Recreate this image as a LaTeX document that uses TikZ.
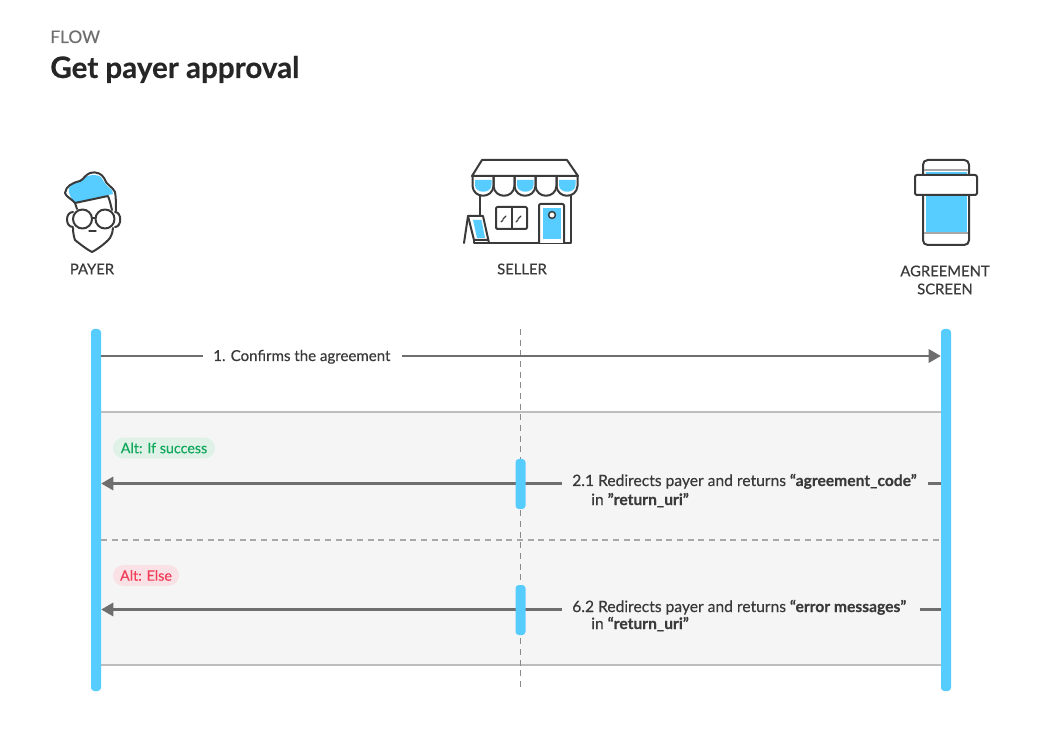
\documentclass[tikz,border=0pt]{standalone}
\usepackage{fontspec}
\setmainfont{Lato}[RawFeature={embolden=0.35}]
\usetikzlibrary{arrows.meta}
\definecolor{sky}{HTML}{56CCFF}
\definecolor{ink}{HTML}{3A3A3A}
\definecolor{panel}{HTML}{F5F5F5}
\definecolor{arrowgray}{HTML}{6E6E6E}
\definecolor{rulegray}{HTML}{BDBDBD}
\definecolor{dashgray}{HTML}{A8A8A8}
\definecolor{okgreen}{HTML}{12A85C}
\definecolor{okpill}{HTML}{E0F2E8}
\definecolor{errred}{HTML}{F03E5A}
\definecolor{errpill}{HTML}{F9E1E5}
\tikzset{
  x=0.75pt,y=-0.75pt,
  lifebar/.style={fill=sky,draw=none,rounded corners=2.5pt,minimum width=7.5pt,inner sep=0pt},
  icon/.style={draw=ink,line width=1.5pt,line join=round,line cap=round},
  actor/.style={text=ink,align=center,font=\fontsize{11.1}{13.5}\selectfont},
  msg/.style={text=ink,font=\fontsize{11.72}{14.3}\selectfont,inner sep=0pt,anchor=base west},
  arrowline/.style={draw=arrowgray,line width=1.7pt},
  tip/.style={-{Triangle[length=9pt,width=10pt]}},
  pill/.style={rounded corners=7.5pt,inner sep=0pt,minimum height=15.4pt,font=\fontsize{10.7}{12}\selectfont},
}
\begin{document}
\begin{tikzpicture}
\useasboundingbox (0,0) rectangle (1040,752);
\fill[white] (0,0) rectangle (1040,752);
% title
\node[anchor=base west,inner sep=0pt,text=arrowgray,font=\fontsize{13}{14}\selectfont] (flow) at (50,43) {FLOW};
\node[anchor=base west,inner sep=0pt,text=black!85,font=\fontsize{22.2}{24}\selectfont\bfseries] (title) at (50,78) {Get payer approval};
% payer icon
\fill[sky] (74,203) .. controls (70,196) and (68,192) .. (69,188) .. controls (72,182) and (80,182) .. (83,179) .. controls (88,174) and (97,174) .. (101,177) .. controls (104,183) and (108,187) .. (112,190) -- (113,194) -- cycle;
\draw[icon] (75,203) .. controls (72,199) and (66,197) .. (65,193) .. controls (66,186) and (72,183) .. (80,181) .. controls (84,179) and (85,175) .. (90,173) .. controls (96,171) and (102,174) .. (104,178) .. controls (106,185) and (113,187) .. (115,192) .. controls (116,197) and (116,205) .. (116,211);
\draw[icon] (77,209) -- (75,203) -- (108,196) .. controls (110,201) and (111,206) .. (112,210);
\draw[icon] (82.5,219) circle (9.5);
\draw[icon] (105,219) circle (9.5);
\draw[icon] (92,218) -- (95.5,218);
\draw[icon] (73,212) .. controls (65,212) and (65,227) .. (73,227);
\draw[icon] (115,212) .. controls (122,212) and (122,227) .. (115,227);
\draw[icon] (73,228) .. controls (73,233) and (74,237) .. (75,240) .. controls (81,245) and (88,250) .. (92,252) .. controls (96,250) and (105,244) .. (110,238) .. controls (112,234) and (113,231) .. (113,228);
\draw[icon,line width=1pt] (89,231) -- (96,231);
\node[actor] (payer) at (92,269) {PAYER};
% seller icon
\foreach \i in {0,2,4}{
  \fill[sky] ({475+\i*21},180) -- ({491.5+\i*21},180) -- ({491.5+\i*21},185) .. controls ({491.5+\i*21},194) and ({475+\i*21},194) .. ({475+\i*21},185) -- cycle;
}
\draw[icon] (482,160) -- (567,160) -- (578,176) -- (472,176) -- cycle;
\foreach \i in {0,...,4}{
  \draw[icon] ({472.5+\i*21},176) -- ({472.5+\i*21},186) .. controls ({473.5+\i*21},199) and ({492.5+\i*21},199) .. ({493.5+\i*21},186) -- ({493.5+\i*21},176);
}
\draw[icon] (480,195) -- (480,243) -- (571,243) -- (571,195);
\draw[icon,rounded corners=1pt,fill=white] (496,207) rectangle (527,229);
\draw[icon] (512,207) -- (512,229);
\draw[icon,line width=1pt] (503,219) -- (506,216) (501,222) -- (503,220);
\draw[icon,line width=1pt] (518,219) -- (521,216) (516,222) -- (518,220);
\draw[icon,fill=white,rounded corners=1pt] (539,243) -- (539,204) -- (564,204) -- (564,243);
\fill[sky] (543,208) rectangle (561,239);
\draw[icon,fill=white,line width=1.1pt] (552,215) circle (3.4);
\fill[white] (468,216) -- (483,216) -- (489,243) -- (464,243) -- cycle;
\draw[icon] (464,243) -- (468,216) -- (483,216) -- (489,243);
\draw[icon] (468,216) -- (474,240) -- (488,240);
\fill[sky] (473,220) -- (481.5,220) -- (485,238) -- (477,238) -- cycle;
\draw[icon] (474,240) -- (474,243) -- (489,243);
\node[actor] (seller) at (522,269) {SELLER};
% screen icon
\draw[icon,rounded corners=3.5pt,fill=white] (923,160) rectangle (969,245);
\fill[sky] (926,172) rectangle (967,232);
\draw[draw=dashgray,line width=0.9pt] (924,170) -- (968,170) (924,233) -- (968,233);
\draw[icon,rounded corners=1.5pt,fill=white] (915,175) rectangle (977,195);
\node[actor] (screen) at (945,280) {AGREEMENT\\SCREEN};
% panel
\fill[panel] (101,412) rectangle (941,665);
\draw[draw=rulegray,line width=1pt] (101,412) -- (941,412);
\draw[draw=rulegray,line width=1pt] (101,665) -- (941,665);
% seller lifeline
\coordinate (sellertop) at (520.5,329);
\coordinate (sellerbot) at (520.5,691);
\draw[draw=arrowgray!80,line width=0.6pt,dash pattern=on 4.5pt off 3.5pt] (sellertop) -- (sellerbot);
\draw[draw=dashgray,line width=0.8pt,dash pattern=on 4.5pt off 3.5pt] (101,540) -- (941,540);
% lifelines
\node[lifebar,minimum height=271.5pt] (payerbar) at (96,510) {};
\node[lifebar,minimum height=271.5pt] (screenbar) at (946,510) {};
% labels
\node[msg,font=\fontsize{11.3}{14.3}\selectfont] (m1) at (213,361) {1. Confirms the agreement};
\node[msg] (m2) at (572,486) {2.1 Redirects payer and returns \textbf{“agreement\_code”}};
\node[msg] (m2b) at (591,505) {in \textbf{”return\_uri”}};
\node[msg] (m3) at (572,612) {6.2 Redirects payer and returns \textbf{“error messages”}};
\node[msg] (m3b) at (591,629) {in \textbf{“return\_uri”}};
% connectors
\coordinate (a1) at (payerbar.east |- 0,356);
\coordinate (b1) at (screenbar.west |- 0,356);
\coordinate (a2) at (payerbar.east |- 0,483.5);
\coordinate (b2) at (screenbar.west |- 0,483.5);
\coordinate (a3) at (payerbar.east |- 0,609.5);
\coordinate (b3) at (screenbar.west |- 0,609.5);
\coordinate (m1l) at (203,356);
\coordinate (m1r) at (402,356);
\coordinate (m2l) at (562,483.5);
\coordinate (m2r) at (928,483.5);
\coordinate (m3l) at (562,609.5);
\coordinate (m3r) at (920,609.5);
\draw[arrowline] (a1) -- (m1l);
\draw[arrowline,tip] (m1r) -- (b1);
\draw[arrowline] (b2) -- (m2r);
\draw[arrowline,tip] (m2l) -- (a2);
\draw[arrowline] (b3) -- (m3r);
\draw[arrowline,tip] (m3l) -- (a3);
% activations
\node[lifebar,minimum height=37.5pt] (act1) at (520.5,484) {};
\node[lifebar,minimum height=37.5pt] (act2) at (520.5,610) {};
% pills
\node[pill,fill=okpill,text=okgreen,minimum width=76.5pt] (alt1) at (164,448) {Alt: If success};
\node[pill,fill=errpill,text=errred,minimum width=49.5pt] (alt2) at (146,575.5) {Alt: Else};
\end{tikzpicture}
\end{document}
